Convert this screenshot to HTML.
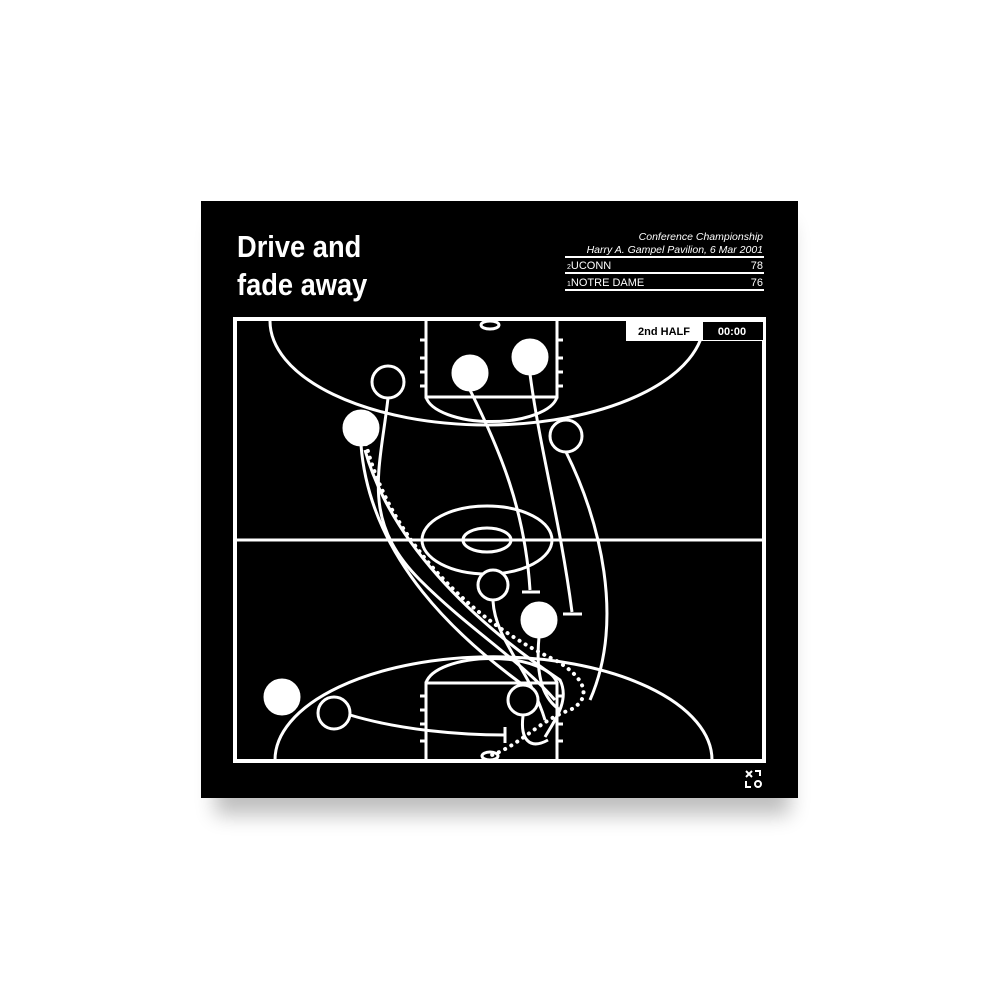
<!DOCTYPE html>
<html><head><meta charset="utf-8"><style>
html,body{margin:0;padding:0;background:#fff;width:1000px;height:1000px;overflow:hidden}
</style></head><body>
<svg width="1000" height="1000" viewBox="0 0 1000 1000" xmlns="http://www.w3.org/2000/svg" font-family="Liberation Sans, sans-serif">
<defs><filter id="sh" x="-20%" y="-20%" width="140%" height="150%"><feGaussianBlur stdDeviation="10"/></filter></defs>
<rect x="215" y="225" width="575" height="590" fill="#000" opacity="0.25" filter="url(#sh)"/>
<rect x="201" y="201" width="597" height="597" fill="#000"/>
<g transform="translate(237,0) scale(0.88,1)"><text x="0" y="257" fill="#fff" font-size="31" font-weight="bold">Drive and</text>
<text x="0" y="295" fill="#fff" font-size="31" font-weight="bold">fade away</text></g>
<g fill="#fff" font-size="10.5" font-style="italic" text-anchor="end">
<text x="763" y="240">Conference Championship</text>
<text x="763" y="253">Harry A. Gampel Pavilion, 6 Mar 2001</text></g>
<g stroke="#fff" stroke-width="2"><line x1="565" y1="257" x2="764" y2="257"/><line x1="565" y1="273" x2="764" y2="273"/><line x1="565" y1="290" x2="764" y2="290"/></g>
<g fill="#fff" font-size="11"><text x="567" y="269"><tspan font-size="7">2</tspan>UCONN</text><text x="763" y="269" text-anchor="end">78</text>
<text x="567" y="286"><tspan font-size="7">1</tspan>NOTRE DAME</text><text x="763" y="286" text-anchor="end">76</text></g>
<g fill="none" stroke="#fff" stroke-width="3">
<rect x="235" y="319" width="529" height="442" stroke-width="4"/>
<line x1="235" y1="540" x2="764" y2="540"/>
<ellipse cx="487" cy="540" rx="65" ry="34"/><ellipse cx="487" cy="540" rx="24" ry="12"/>
<path d="M270 321 A217 104 0 0 0 704 321"/>
<path d="M426 321 V397 H557 V321"/><path d="M426 397 A66 28 0 0 0 557 397"/>
<ellipse cx="490" cy="325" rx="9" ry="4"/>
<path d="M275 760 A218 103 0 0 1 712 760"/>
<path d="M426 760 V683 H557 V760"/><path d="M426 683 A66 28 0 0 1 557 683"/>
<ellipse cx="490" cy="756" rx="8" ry="4"/>
</g>
<g stroke="#fff" stroke-width="3">
<line x1="420" y1="340" x2="426" y2="340"/><line x1="420" y1="358" x2="426" y2="358"/><line x1="420" y1="372" x2="426" y2="372"/><line x1="420" y1="386" x2="426" y2="386"/>
<line x1="557" y1="340" x2="563" y2="340"/><line x1="557" y1="358" x2="563" y2="358"/><line x1="557" y1="372" x2="563" y2="372"/><line x1="557" y1="386" x2="563" y2="386"/>
<line x1="420" y1="696" x2="426" y2="696"/><line x1="420" y1="710" x2="426" y2="710"/><line x1="420" y1="724" x2="426" y2="724"/><line x1="420" y1="741" x2="426" y2="741"/>
<line x1="557" y1="696" x2="563" y2="696"/><line x1="557" y1="724" x2="563" y2="724"/><line x1="557" y1="741" x2="563" y2="741"/>
</g>
<rect x="626" y="321" width="138" height="20" fill="#fff"/>
<rect x="703" y="322" width="60" height="18" fill="#000"/>
<text x="664" y="335" font-size="11" font-weight="bold" text-anchor="middle">2nd HALF</text>
<text x="732" y="335" font-size="11" font-weight="bold" text-anchor="middle" fill="#fff">00:00</text>
<g fill="none" stroke="#fff" stroke-width="3">
<path d="M388 398 C380 470 360 520 420 580 C470 630 520 660 555 700"/>
<path d="M361 445 C370 560 460 640 530 690"/>
<path d="M470 390 C500 450 525 510 530 590"/><line x1="522" y1="592" x2="540" y2="592"/>
<path d="M530 374 C540 450 560 520 572 612"/><line x1="563" y1="614" x2="582" y2="614"/>
<path d="M566 452 C600 520 625 620 590 700"/>
<path d="M493 601 C495 640 530 670 545 720"/>
<path d="M539 637 C535 680 545 700 560 710"/>
<path d="M350 715 C400 730 460 735 505 735"/><line x1="505" y1="727" x2="505" y2="743"/>
<path d="M365 450 C390 540 470 620 560 680 C570 700 555 720 545 737"/>
<path d="M523 716 C520 740 530 750 548 740"/>
</g>
<path d="M366 444 C390 540 470 620 555 660 C590 680 590 700 570 710 C540 720 520 745 492 755" fill="none" stroke="#fff" stroke-width="4" stroke-dasharray="0.1 7" stroke-linecap="round"/>
<g fill="#fff" stroke="#fff" stroke-width="3">
<circle cx="470" cy="373" r="17"/><circle cx="530" cy="357" r="17"/><circle cx="361" cy="428" r="17"/><circle cx="539" cy="620" r="17"/><circle cx="282" cy="697" r="17"/>
</g>
<g fill="#000" stroke="#fff" stroke-width="3">
<circle cx="388" cy="382" r="16"/><circle cx="566" cy="436" r="16"/><circle cx="493" cy="585" r="15"/><circle cx="523" cy="700" r="15"/><circle cx="334" cy="713" r="16"/>
</g>
<g stroke="#fff" stroke-width="2" fill="none"><path d="M746 771 l6 6 M752 771 l-6 6 M755 771 h5 v5 M746 781 v6 h5"/><circle cx="758" cy="784" r="3"/></g>
</svg>
</body></html>
